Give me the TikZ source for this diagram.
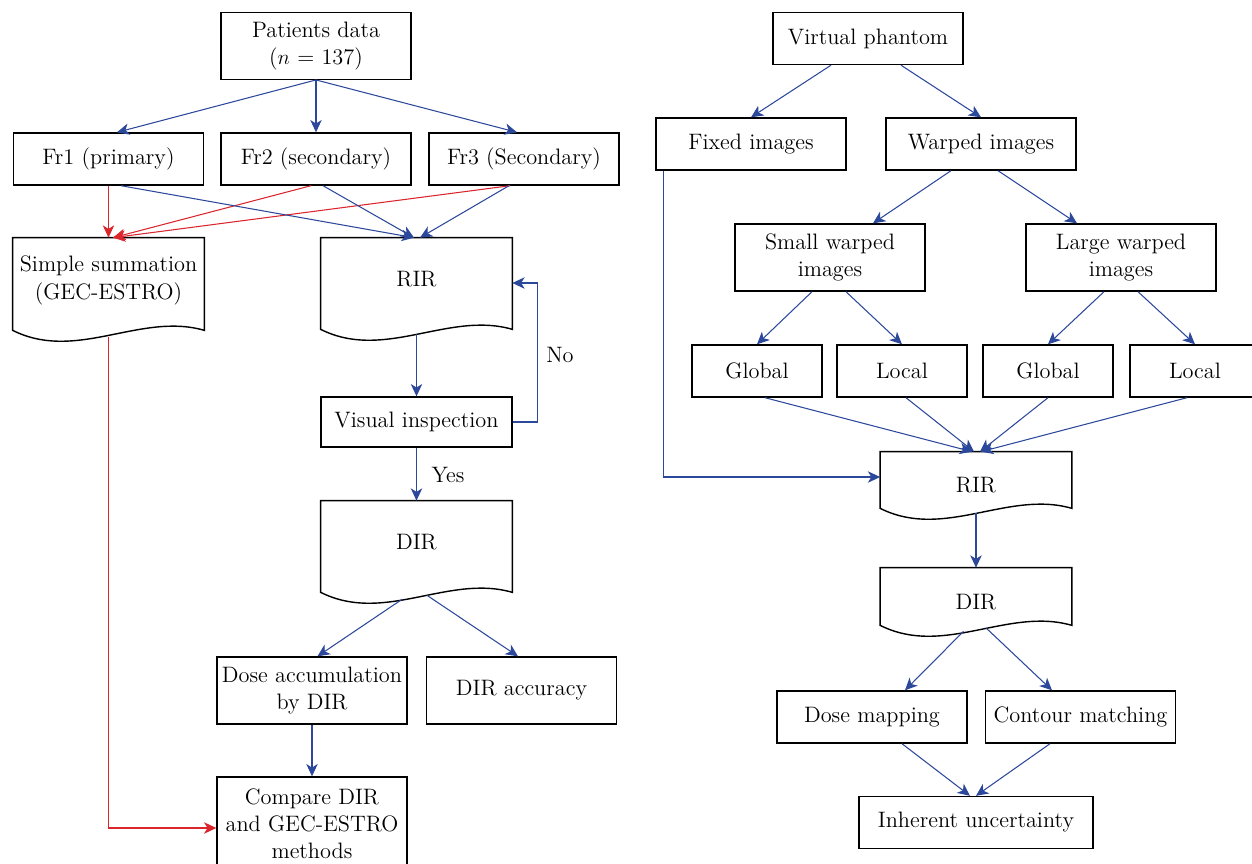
\documentclass[tikz,border=0pt]{standalone}
\usepackage{amsmath}
\usepackage{tikz}
\usetikzlibrary{arrows.meta}
\usetikzlibrary{calc}
\definecolor{flowblue}{RGB}{44,72,155}
\definecolor{flowred}{RGB}{218,37,44}

\begin{document}
\begin{tikzpicture}[x=0.02cm,y=-0.02cm,font=\fontsize{12.7}{15.5}\selectfont,box/.style={draw, line width=0.8pt, minimum width=3.8cm, minimum height=1.04cm, align=center, inner sep=1pt},doc/.style={minimum width=3.82cm, inner sep=0pt},arr/.style={draw=flowblue, line width=0.6pt, -{Stealth[length=7pt,width=6.5pt,inset=2pt]}},redarr/.style={arr, draw=flowred}]
	
	\useasboundingbox (0,0) rectangle (1252,863);
	
	% left chart
	\node[box, minimum height=1.33cm] (pat) at (316,46) {Patients data\\($n$ = 137)};
	\node[box] (fr1) at (108.5,159) {Fr1 (primary)};
	\node[box] (fr2) at (316,159) {Fr2 (secondary)};
	\node[box] (fr3) at (524,159) {Fr3 (Secondary)};
	\node[doc, minimum height=2.06cm, label={[align=center,yshift=0.18cm]center:Simple summation\\(GEC-ESTRO)}] (sum) at (108.5,289.5) {};
	\node[doc, minimum height=2.04cm, label={[yshift=0.2cm]center:RIR}] (rir) at (416.5,289) {};
	\node[box, minimum width=3.82cm, minimum height=1cm] (vis) at (416.5,422) {Visual inspection};
	\node[doc, minimum height=2.04cm, label={[yshift=0.2cm]center:DIR}] (dir) at (416.5,552) {};
	\node[box, minimum height=1.34cm] (acc) at (312,690.5) {Dose accumulation\\by DIR};
	\node[box, minimum height=1.34cm] (dacc) at (521.5,690.5) {DIR accuracy};
	\node[box, minimum height=1.88cm] (cmp) at (312,824) {Compare DIR\\and GEC-ESTRO\\methods};
	\node (no) at (560,355) {No};
	\node (yes) at (448,475) {Yes};
	
	% right chart
	\node[box] (vp) at (868,38.5) {Virtual phantom};
	\node[box] (fix) at (751,144) {Fixed images};
	\node[box] (warp) at (981,144) {Warped images};
	\node[box, minimum height=1.34cm] (small) at (830,257.5) {Small warped\\images};
	\node[box, minimum height=1.34cm] (large) at (1121,257.5) {Large warped\\images};
	\node[box, minimum width=2.6cm] (g1) at (757,371) {Global};
	\node[box, minimum width=2.6cm] (l1) at (902,371) {Local};
	\node[box, minimum width=2.6cm] (g2) at (1048,371) {Global};
	\node[box, minimum width=2.6cm] (l2) at (1195,371) {Local};
	\node[doc, minimum height=1.34cm, label={center:RIR}] (rir2) at (976,485.5) {};
	\node[doc, minimum height=1.36cm, label={center:DIR}] (dir2) at (976,602) {};
	\node[box] (dm) at (872,717) {Dose mapping};
	\node[box] (cm) at (1080.5,717) {Contour matching};
	\node[box, minimum width=4.68cm] (iu) at (976,822.5) {Inherent uncertainty};
	
	\foreach \n in {sum,rir,dir,rir2,dir2}
		\draw[line width=0.8pt] ([yshift=0.22cm]\n.south east) -- (\n.north east) -- (\n.north west) -- ([yshift=0.22cm]\n.south west)
			.. controls ([yshift=-0.42cm]$(\n.south west)!0.333!(\n.south east)$) and ([yshift=0.59cm]$(\n.south west)!0.667!(\n.south east)$) .. ([yshift=0.22cm]\n.south east) -- cycle;
	
	\draw[arr] (pat.south) -- ([xshift=0.17cm]fr1.north);
	\draw[arr] (pat.south) -- (fr2.north);
	\draw[arr] (pat.south) -- ([xshift=-0.14cm]fr3.north);
	\draw[redarr] (fr1.south) -- (sum.north);
	\draw[redarr] ([xshift=-0.1cm]fr2.south) -- ([xshift=0.09cm]sum.north);
	\draw[redarr] ([xshift=-0.28cm]fr3.south) -- ([xshift=0.09cm]sum.north);
	\draw[arr] ([xshift=0.25cm]fr1.south) -- ([xshift=-0.05cm]rir.north);
	\draw[arr] ([xshift=0.14cm]fr2.south) -- ([xshift=-0.05cm]rir.north);
	\draw[arr] ([xshift=-0.3cm]fr3.south) -- ([xshift=0.07cm]rir.north);
	\draw[arr] ([yshift=0.12cm]rir.south) -- (vis.north);
	\draw[arr] (vis.east) -- ++(25,0) |- ([yshift=0.12cm]rir.east);
	\draw[arr] (vis.south) -- (dir.north);
	\draw[arr] ([xshift=-0.29cm,yshift=0.08cm]dir.south) -- ([xshift=0.11cm]acc.north);
	\draw[arr] ([xshift=0.21cm,yshift=0.16cm]dir.south) -- ([xshift=-0.07cm]dacc.north);
	\draw[arr] (acc.south) -- (cmp.north);
	\draw[redarr] ([yshift=0.08cm]sum.south) |- ([yshift=-0.08cm]cmp.west);
	
	\draw[arr] ([xshift=-0.74cm]vp.south) -- (fix.north);
	\draw[arr] ([xshift=0.66cm]vp.south) -- (warp.north);
	\draw[arr] ([xshift=-0.6cm]warp.south) -- ([xshift=0.86cm]small.north);
	\draw[arr] ([xshift=0.34cm]warp.south) -- ([xshift=-0.88cm]large.north);
	\draw[arr] ([xshift=-0.36cm]small.south) -- (g1.north);
	\draw[arr] ([xshift=0.32cm]small.south) -- (l1.north);
	\draw[arr] ([xshift=-0.34cm]large.south) -- (g2.north);
	\draw[arr] ([xshift=0.34cm]large.south) -- (l2.north);
	\draw[arr] ([xshift=0.16cm]g1.south) -- ([xshift=-0.08cm]rir2.north);
	\draw[arr] ([xshift=0.08cm]l1.south) -- ([xshift=-0.04cm]rir2.north);
	\draw[arr] (g2.south) -- ([xshift=0.08cm]rir2.north);
	\draw[arr] ([xshift=-0.16cm]l2.south) -- ([xshift=0.1cm]rir2.north);
	\draw[arr] ([xshift=0.16cm]fix.south west) |- ([yshift=0.17cm]rir2.west);
	\draw[arr] ([yshift=0.12cm]rir2.south) -- (dir2.north);
	\draw[arr] ([xshift=-0.25cm,yshift=0.1cm]dir2.south) -- ([xshift=0.66cm]dm.north);
	\draw[arr] ([xshift=0.21cm,yshift=0.16cm]dir2.south) -- ([xshift=-0.57cm]cm.north);
	\draw[arr] ([xshift=0.6cm]dm.south) -- ([xshift=-0.12cm]iu.north);
	\draw[arr] ([xshift=-0.61cm]cm.south) -- (iu.north);
	
\end{tikzpicture}
\end{document}
